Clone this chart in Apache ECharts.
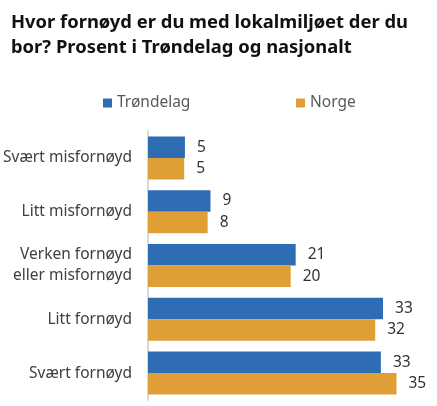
<!DOCTYPE html>
<html><head><meta charset="utf-8">
<script src="https://cdn.jsdelivr.net/npm/echarts@6/dist/echarts.min.js"></script>
<style>html,body{margin:0;padding:0;background:#fff}#c{width:437px;height:406px}</style>
</head><body><div id="c"></div>
<script>
const titleText = 'Hvor fornøyd er du med lokalmiljøet der du\nbor? Prosent i Trøndelag og nasjonalt';
const categories = ['Svært misfornøyd', 'Litt misfornøyd', 'Verken fornøyd\neller misfornøyd', 'Litt fornøyd', 'Svært fornøyd'];
const seriesNames = ['Trøndelag', 'Norge'];
const trondelag = [5.2, 8.8, 20.8, 33.1, 32.8];
const norge = [5.1, 8.4, 20.1, 32.0, 35.0];

const font = 'Noto Sans';
const chart = echarts.init(document.getElementById('c'));
const labelOpt = {show: true, position: 'right', distance: 12, color: '#333', fontSize: 15.5, fontFamily: font,
  formatter: p => Math.round(p.value)};
chart.setOption({
  animation: false,
  title: {text: titleText, left: 6, top: 5, textStyle: {fontFamily: font, fontWeight: 'bold', fontSize: 18.4, lineHeight: 25, color: '#111'}},
  legend: [
    {data: [seriesNames[0]], left: 98, top: 90, itemWidth: 9, itemHeight: 9, itemGap: 5, icon: 'rect', textStyle: {fontFamily: font, fontSize: 15.5, color: '#595959'}},
    {data: [seriesNames[1]], left: 291, top: 90, itemWidth: 9, itemHeight: 9, itemGap: 5, icon: 'rect', textStyle: {fontFamily: font, fontSize: 15.5, color: '#595959'}}
  ],
  grid: {left: 148, right: 5, top: 131, bottom: 6, containLabel: false},
  xAxis: {type: 'value', min: 0, max: 40, show: false},
  yAxis: {type: 'category', data: categories, inverse: true,
    axisLine: {lineStyle: {color: '#d9d9d9', width: 2}}, axisTick: {show: false},
    axisLabel: {margin: 16, color: '#404040', fontSize: 15.5, fontFamily: font, lineHeight: 21}},
  series: [
    {name: seriesNames[0], type: 'bar', data: trondelag, barWidth: 21.5, barGap: '0%', itemStyle: {color: '#2E6DB4'}, label: labelOpt},
    {name: seriesNames[1], type: 'bar', data: norge, barWidth: 21.5, barGap: '0%', itemStyle: {color: '#E09F36'}, label: labelOpt}
  ]
});
</script></body></html>
